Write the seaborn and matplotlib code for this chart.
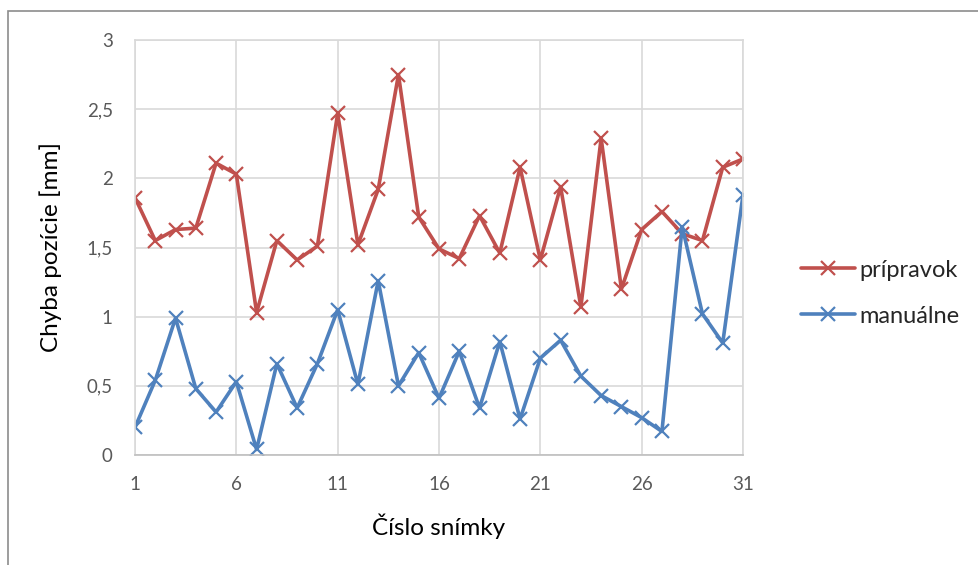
import numpy as np
import pandas as pd
import matplotlib
matplotlib.use("Agg")
import matplotlib.pyplot as plt
import seaborn as sns
from matplotlib.patches import Rectangle

# hodnoty odcitane z grafu
snimky = list(range(1, 32))
pripravok = [1.86, 1.55, 1.63, 1.64, 2.11, 2.03, 1.03, 1.55, 1.41, 1.51,
             2.47, 1.52, 1.92, 2.75, 1.72, 1.49, 1.42, 1.73, 1.46, 2.08,
             1.41, 1.94, 1.07, 2.29, 1.20, 1.63, 1.76, 1.60, 1.55, 2.08, 2.14]
manualne = [0.20, 0.54, 0.99, 0.48, 0.31, 0.53, 0.04, 0.66, 0.34, 0.66,
            1.05, 0.51, 1.26, 0.50, 0.74, 0.41, 0.75, 0.34, 0.82, 0.26,
            0.70, 0.83, 0.57, 0.43, 0.35, 0.27, 0.17, 1.65, 1.02, 0.81, 1.88]
serie = ["prípravok", "manuálne"]
farby = ["#C0504D", "#4F81BD"]
x_ticky = [1, 6, 11, 16, 21, 26, 31]
y_ticky = [0, 0.5, 1, 1.5, 2, 2.5, 3]
y_popisky = ["0", "0,5", "1", "1,5", "2", "2,5", "3"]

df = pd.DataFrame({"snimka": snimky, serie[0]: pripravok, serie[1]: manualne})

sns.set_style("white")
plt.rcParams["font.family"] = ["Lato", "DejaVu Sans"]

fig = plt.figure(figsize=(9.79, 5.65), dpi=100)
ax = fig.add_axes([135 / 979, 1 - 455 / 565, 608 / 979, 415 / 565])

# ramcek okolo grafu
fig.patches.append(Rectangle((8 / 979, -0.1), 1.2, 1.1 - 11 / 565, transform=fig.transFigure,
                             fill=False, edgecolor="#8c8c8c", linewidth=1.2))

styl = dict(marker="x", markersize=10, markeredgewidth=1.6, linewidth=2.6)
for nazov, farba in zip(serie, farby):
    sns.lineplot(data=df, x="snimka", y=nazov, color=farba, markeredgecolor=farba,
                 ax=ax, label=nazov, **styl)

ax.set_xlim(1, 31)
ax.set_ylim(0, 3)
ax.set_xticks(x_ticky)
ax.set_yticks(y_ticky)
ax.set_yticklabels(y_popisky)
ax.grid(True, color="#D9D9D9", linewidth=1.2)
ax.set_axisbelow(True)
for s in ["top", "right", "left"]:
    ax.spines[s].set_color("#D9D9D9")
    ax.spines[s].set_linewidth(1.2)
ax.spines["bottom"].set_color("#BFBFBF")
ax.spines["bottom"].set_linewidth(1.2)
ax.tick_params(axis="both", length=0, labelsize=13.5, colors="#595959")
ax.tick_params(axis="y", pad=16)
ax.tick_params(axis="x", pad=15)

ax.set_xlabel("Číslo snímky", fontsize=17.5, color="black", labelpad=15)
ax.set_ylabel("Chyba pozície [mm]", fontsize=17.5, color="black", labelpad=18)

ax.legend(loc="center left", bbox_to_anchor=(1.06, 0.39),
          frameon=False, fontsize=17, handlelength=2.3, handletextpad=0.2,
          labelspacing=1.05)

fig.savefig("out.png", dpi=100)
